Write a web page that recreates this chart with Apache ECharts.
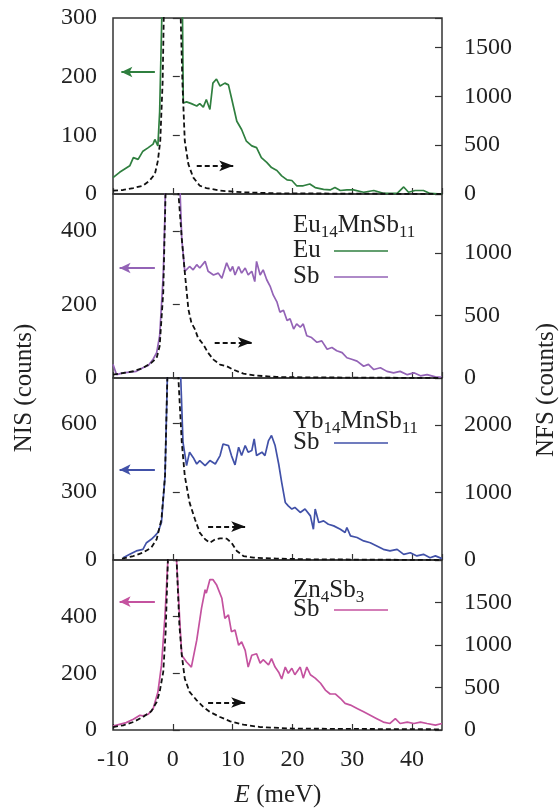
<!DOCTYPE html>
<html>
<head>
<meta charset="UTF-8">
<title>NIS / NFS</title>
<script src="https://cdn.jsdelivr.net/npm/echarts@6/dist/echarts.min.js"></script>
<style>
html, body { margin: 0; padding: 0; background: #fff; }
#chart { width: 559px; height: 809px; }
</style>
</head>
<body>
<div id="chart"></div>
<script>
// NIS (left axis) per panel, [E, counts]
var euNIS = [[-10,28],[-8.9,37],[-7.2,48],[-6.6,62],[-5.8,59],[-5,73],[-4.1,79],[-3.3,85],[-3,93],[-2.5,82],[-2.2,140],[-1.8,320],[0,2000],[1.6,320],[1.75,155],[2.3,157],[3.1,154],[4,150],[4.5,154],[5.1,148],[5.6,161],[6.2,144],[6.7,189],[7.3,196],[7.9,184],[8.7,189],[9.3,186],[9.8,164],[10.7,124],[11.5,110],[12.3,90],[13.2,82],[14,79],[14.8,62],[15.7,54],[16.5,45],[17.4,40],[18.2,31],[19.1,24],[19.9,23],[20.7,14],[21.8,14],[22.9,17],[23.8,11],[25.2,8],[26.3,7],[27.1,11],[28,6],[29.1,7],[30.2,7],[31.9,3],[33.6,6],[35.2,1],[37.5,1],[38.6,12],[39.4,3],[40.5,6],[41.9,6],[43,1],[45,0]];
var euSbNIS = [[-10,37],[-9.4,9],[-8.3,14],[-7.2,16],[-6.1,18],[-5,28],[-4.1,34],[-3.3,51],[-2.7,69],[-2.2,115],[-1.6,280],[-1.3,455],[0,2000],[1.0,600],[1.5,378],[2.0,290],[2.3,285],[2.8,303],[3.4,294],[4,308],[4.5,299],[5.4,317],[5.9,290],[6.8,280],[7.6,285],[8.2,271],[9,313],[9.6,290],[10,303],[10.4,280],[11,303],[11.5,285],[12.1,299],[12.6,280],[13.2,290],[13.7,262],[14,317],[14.6,280],[15.1,294],[15.7,267],[16.3,248],[16.8,225],[17.4,207],[17.9,179],[18.5,184],[19.1,156],[19.6,161],[20.2,133],[20.7,147],[21.3,138],[21.8,147],[22.4,115],[23.2,110],[24.1,97],[24.9,101],[25.8,78],[26.6,83],[27.4,74],[28.3,69],[29.1,55],[29.9,51],[30.8,46],[31.9,32],[32.7,37],[33.6,23],[34.7,28],[35.8,18],[36.9,14],[38,18],[39.2,9],[40.3,14],[41.4,6],[42.5,9],[43.9,3],[45,2]];
var ybSbNIS = [[-8.3,10],[-7.2,25],[-6.1,40],[-5,47],[-4.4,76],[-3.6,91],[-3,106],[-2.5,121],[-1.9,165],[-1.3,370],[-0.9,820],[0,2000],[1.3,820],[1.7,518],[2.3,415],[2.8,474],[3.4,451],[4,422],[4.5,437],[5.4,415],[6.2,437],[7.1,422],[7.9,459],[8.4,510],[9.3,503],[9.8,459],[10.4,418],[11,496],[11.5,459],[12.1,503],[12.6,474],[13.2,481],[13.6,532],[14,459],[14.9,474],[15.4,459],[16,525],[16.5,547],[17.1,503],[17.7,422],[18.2,341],[18.8,253],[19.3,238],[19.9,224],[20.4,231],[21.3,209],[22.1,224],[23,194],[23.5,135],[23.8,224],[24.4,165],[25.2,172],[26,157],[26.9,150],[28,135],[28.8,121],[29.1,143],[29.7,106],[30.8,99],[31.9,84],[33,76],[34.1,62],[35.2,47],[36.3,40],[37.5,47],[38.6,25],[39.7,32],[40.8,18],[41.9,25],[43,10],[43.9,18],[45,6]];
var znSbNIS = [[-10,14],[-8.9,20],[-7.8,26],[-6.6,38],[-5.5,52],[-5,50],[-4.1,56],[-3.3,74],[-2.5,133],[-1.9,228],[-1.3,406],[-0.8,610],[0,2000],[0.6,610],[1.2,370],[1.5,264],[2.3,240],[3.1,222],[4,317],[4.8,430],[5.4,495],[5.6,483],[6.2,531],[6.7,531],[7.3,513],[8.2,465],[8.7,394],[9.3,406],[9.8,347],[10.4,353],[11,299],[11.5,311],[12.1,281],[12.6,222],[13.2,264],[14,269],[14.6,236],[15.1,248],[16,230],[16.5,252],[17.1,222],[17.7,204],[18.2,180],[18.8,222],[19.3,200],[19.9,218],[20.4,195],[21.3,222],[21.8,183],[22.4,222],[23,195],[23.8,183],[24.7,165],[25.5,141],[26.3,127],[27.2,127],[28,112],[28.8,94],[29.7,88],[30.8,76],[31.9,64],[33,52],[34.1,40],[35.2,28],[36.3,23],[37.2,40],[38,23],[39.2,28],[40.3,23],[41.4,28],[42.5,23],[43.9,17],[45,23]];

// NFS (right axis) per panel, [E, counts]
var euNFS = [[-10,34],[-8.3,41],[-6.6,61],[-5,85],[-3.9,136],[-3,203],[-2.5,339],[-2.1,542],[-1.7,1150],[-1.5,1850],[0,10000],[1.3,1850],[1.6,1150],[2,542],[2.6,305],[3.4,170],[4.5,85],[5.6,61],[7.9,34],[11.8,17],[17.4,7],[45,0]];
var euSbNFS = [[-10,27],[-8.3,40],[-6.6,54],[-5,80],[-3.6,121],[-2.7,161],[-2.2,255],[-1.6,684],[-1.2,1500],[0,10000],[0.9,1500],[1.5,1113],[2,845],[2.6,550],[3.1,442],[3.7,389],[4.2,322],[5.1,268],[5.9,201],[6.8,147],[7.9,107],[9,94],[10.1,67],[11.8,35],[14,19],[17.4,8],[23,5],[45,0]];
var ybSbNFS = [[-8.5,20],[-6.6,59],[-5,109],[-3.6,183],[-2.7,307],[-1.9,604],[-1.3,1248],[-0.9,2750],[0,10000],[0.9,2750],[1.5,1743],[2,1248],[2.8,851],[3.7,604],[4.5,406],[5.4,307],[6.2,257],[7.1,307],[7.9,322],[9,317],[9.8,257],[10.7,134],[11.8,59],[13.5,35],[17.4,20],[23,10],[45,0]];
var znSbNFS = [[-10,35],[-8.3,55],[-6.6,94],[-5,153],[-3.6,220],[-2.7,330],[-2.2,448],[-1.6,683],[-1.2,1154],[-0.8,2050],[0,10000],[0.6,2050],[1.1,1233],[1.5,880],[2,605],[2.8,448],[4,349],[5.1,271],[6.2,212],[7.9,153],[9.6,102],[11.8,63],[14.6,35],[20.2,16],[45,8]];

// axis ranges
var nisMax = [300, 500, 800, 600];
var nisStep = [100, 200, 300, 200];
var nfsMax = [1800, 1470, 2700, 2000];
var nfsStep = [500, 500, 1000, 500];

// arrows in NIS units: [tail, head]
var nisArrows = [[[-3.0,208],[-8.6,208]], [[-3.0,299],[-8.9,299]], [[-3.0,397],[-8.9,397]], [[-3.0,453],[-8.9,453]]];
var nfsArrows = [[[4.0,48],[10.1,48]], [[7.0,97],[13.2,97]], [[5.9,147],[12.1,147]], [[5.9,97],[12.1,97]]];

var nisData = [euNIS, euSbNIS, ybSbNIS, znSbNIS];
var nfsData = [euNFS, euSbNFS, ybSbNFS, znSbNFS];
var colors = ['#2f7f3f', '#9363b6', '#4151a8', '#c4529f'];

var panelTop = [18, 194, 378, 560];
var panelHeight = [176, 184, 182, 170];

var FONT = '"Liberation Serif", "Times New Roman", serif';
var chart = echarts.init(document.getElementById('chart'));

// only label multiples of the step below the max (top label only on panel 1)
function stepFormatter(step, max, showTop) {
  return function (v) {
    if (v >= max - 1e-6 && !showTop) return '';
    return Math.abs(v % step) < 1e-6 ? String(v) : '';
  };
}

var grids = [], xAxes = [], yAxes = [], series = [];
for (var i = 0; i < 4; i++) {
  grids.push({ left: 113, right: 117, top: panelTop[i], height: panelHeight[i],
    show: true, borderColor: '#333', borderWidth: 1.5, backgroundColor: 'transparent' });
  xAxes.push({ type: 'value', gridIndex: i, min: -10, max: 45, interval: 10,
    axisLine: { show: false },
    axisTick: { show: true, inside: true, length: 6, lineStyle: { color: '#333', width: 1.2 } },
    axisLabel: { show: i === 3, showMaxLabel: false, fontFamily: FONT, fontSize: 24, color: '#222', margin: 18,
      formatter: stepFormatter(10, 45, false) },
    splitLine: { show: false } });
  yAxes.push({ type: 'value', gridIndex: i, position: 'left', min: 0, max: nisMax[i], interval: nisStep[i],
    axisLine: { show: false },
    axisTick: { show: true, inside: true, length: 7, lineStyle: { color: '#333', width: 1.2 } },
    axisLabel: { fontFamily: FONT, fontSize: 24, color: '#222', margin: 16,
      formatter: stepFormatter(nisStep[i], nisMax[i], i === 0) },
    splitLine: { show: false } });
  yAxes.push({ type: 'value', gridIndex: i, position: 'right', min: 0, max: nfsMax[i], interval: nfsStep[i],
    axisLine: { show: false },
    axisTick: { show: true, inside: true, length: 7, lineStyle: { color: '#333', width: 1.2 } },
    axisLabel: { fontFamily: FONT, fontSize: 24, color: '#222', margin: 22,
      formatter: stepFormatter(nfsStep[i], nfsMax[i], false) },
    splitLine: { show: false } });

  series.push({ type: 'line', xAxisIndex: i, yAxisIndex: 2 * i, data: nisData[i],
    showSymbol: false, clip: true, silent: true,
    lineStyle: { color: colors[i], width: 1.7 },
    markLine: {
      silent: true, animation: false, label: { show: false },
      data: [
        [{ coord: nisArrows[i][0], symbol: 'none', lineStyle: { color: colors[i], width: 1.8, type: 'solid' } },
         { coord: nisArrows[i][1], symbol: 'arrow', symbolSize: [8, 11] }],
        [{ coord: nfsArrows[i][0], symbol: 'none', lineStyle: { color: '#111', width: 1.8, type: [5, 3] } },
         { coord: nfsArrows[i][1], symbol: 'arrow', symbolSize: [8, 14] }]
      ]
    } });
  series.push({ type: 'line', xAxisIndex: i, yAxisIndex: 2 * i + 1, data: nfsData[i],
    showSymbol: false, clip: true, silent: true,
    lineStyle: { color: '#111', width: 1.8, type: [5, 3] } });
}

// formula texts with subscripts
var ctx = document.createElement('canvas').getContext('2d');
function textW(s, size) { ctx.font = size + 'px ' + FONT; return ctx.measureText(s).width; }
var graphics = [];
function formula(parts, x, y) {
  parts.forEach(function (p) {
    var size = p[1] ? 17 : 25;
    graphics.push({ type: 'text', x: x, y: y + (p[1] ? 8 : 0), silent: true,
      style: { text: p[0], fontFamily: FONT, fontSize: size, fill: '#222', align: 'left', verticalAlign: 'middle' } });
    x += textW(p[0], size);
  });
}
function legendRow(label, color, y) {
  formula([[label, 0]], 293, y);
  graphics.push({ type: 'line', silent: true, shape: { x1: 334, y1: y + 1, x2: 388, y2: y + 1 },
    style: { stroke: color, lineWidth: 1.6 } });
}
formula([['Eu', 0], ['14', 1], ['MnSb', 0], ['11', 1]], 293, 225);
legendRow('Eu', colors[0], 250);
legendRow('Sb', colors[1], 276);
formula([['Yb', 0], ['14', 1], ['MnSb', 0], ['11', 1]], 293, 421);
legendRow('Sb', colors[2], 442);
formula([['Zn', 0], ['4', 1], ['Sb', 0], ['3', 1]], 293, 590);
legendRow('Sb', colors[3], 609);

graphics.push({ type: 'text', x: 24, y: 388, rotation: Math.PI / 2, silent: true,
  style: { text: 'NIS (counts)', fontFamily: FONT, fontSize: 25, fill: '#222', align: 'center', verticalAlign: 'middle' } });
graphics.push({ type: 'text', x: 546, y: 390, rotation: Math.PI / 2, silent: true,
  style: { text: 'NFS (counts)', fontFamily: FONT, fontSize: 25, fill: '#222', align: 'center', verticalAlign: 'middle' } });
graphics.push({ type: 'text', x: 278, y: 795, silent: true,
  style: { text: '{i|E} (meV)', fontFamily: FONT, fontSize: 25, fill: '#222', align: 'center', verticalAlign: 'middle',
    rich: { i: { fontFamily: FONT, fontSize: 25, fontStyle: 'italic', fill: '#222' } } } });

chart.setOption({
  animation: false,
  backgroundColor: '#fff',
  grid: grids,
  xAxis: xAxes,
  yAxis: yAxes,
  series: series,
  graphic: graphics
});
</script>
</body>
</html>
